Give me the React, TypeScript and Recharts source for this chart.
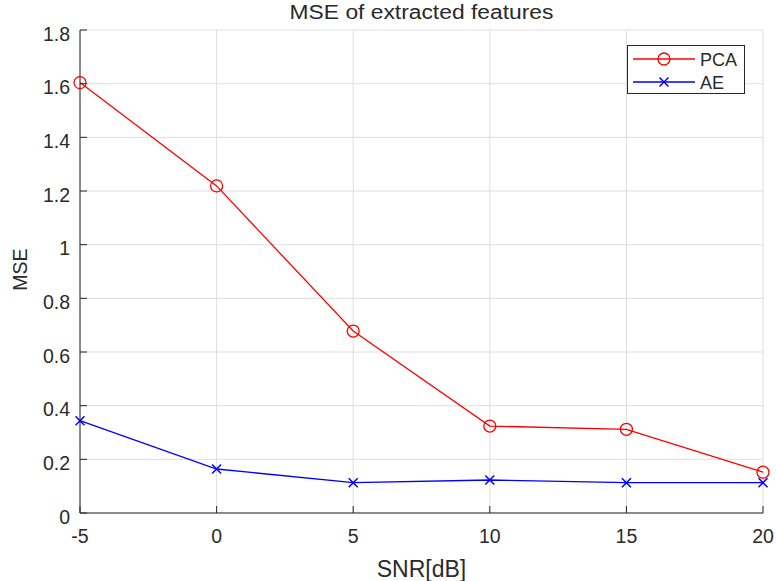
import React from 'react';
import { LineChart, Line, XAxis, YAxis, CartesianGrid, Legend } from 'recharts';

// SNR levels (dB) and the MSE of features extracted by each method
const snrDb = [-5, 0, 5, 10, 15, 20];
const pcaMse = [1.604, 1.219, 0.678, 0.324, 0.312, 0.152];
const aeMse = [0.344, 0.164, 0.113, 0.123, 0.113, 0.113];

const xTicks = [-5, 0, 5, 10, 15, 20];
const yTicks = [0, 0.2, 0.4, 0.6, 0.8, 1, 1.2, 1.4, 1.6, 1.8];

const seriesNames = ['PCA', 'AE'];
const seriesColors = ['#ff0000', '#0000ff'];

const rows = snrDb.map((snr, i) => ({ snr, pca: pcaMse[i], ae: aeMse[i] }));

const FONT = '"Liberation Sans", Arial, Helvetica, sans-serif';
const TEXT = '#2a2a2a';
const AXIS = '#262626';

const CircleDot = (props: any) => {
  const { cx, cy, index } = props;
  if (cx == null || cy == null) return <g key={index} />;
  return <circle key={index} cx={cx} cy={cy} r={6} fill="none" stroke={seriesColors[0]} strokeWidth={1.3} />;
};

const CrossDot = (props: any) => {
  const { cx, cy, index } = props;
  if (cx == null || cy == null) return <g key={index} />;
  const s = 4.5;
  return (
    <g key={index} stroke={seriesColors[1]} strokeWidth={1.5}>
      <line x1={cx - s} y1={cy - s} x2={cx + s} y2={cy + s} />
      <line x1={cx - s} y1={cy + s} x2={cx + s} y2={cy - s} />
    </g>
  );
};

// y tick labels sit slightly below their grid line
const YTick = (props: any) => {
  const { x, y, payload } = props;
  return (
    <text
      x={x}
      y={y + 3.5}
      textAnchor="end"
      dominantBaseline="central"
      fill={TEXT}
      fontSize={19.5}
      fontFamily={FONT}
    >
      {String(payload.value)}
    </text>
  );
};

const YTitle = (props: any) => {
  const vb = props.viewBox || { x: 0, y: 0, width: 0, height: 0 };
  const cx = vb.x + 20;
  const cy = vb.y + vb.height / 2 - 2;
  return (
    <text
      x={cx}
      y={cy}
      transform={`rotate(-90 ${cx} ${cy})`}
      textAnchor="middle"
      dominantBaseline="central"
      fill={TEXT}
      fontSize={19.5}
      fontFamily={FONT}
    >
      MSE
    </text>
  );
};

const LegendBox = () => (
  <div
    style={{
      width: 118,
      height: 49,
      boxSizing: 'border-box',
      border: `1px solid ${AXIS}`,
      background: '#fff',
      position: 'relative',
      fontFamily: FONT,
    }}
  >
    <svg width={116} height={47} style={{ position: 'absolute', left: 0, top: 0 }}>
      {seriesNames.map((name, i) => {
        const y = 13 + i * 23;
        return (
          <g key={name}>
            <line x1={5} x2={67} y1={y} y2={y} stroke={seriesColors[i]} strokeWidth={1.3} />
            {i === 0 ? (
              <circle cx={36} cy={y} r={6} fill="none" stroke={seriesColors[i]} strokeWidth={1.3} />
            ) : (
              <g stroke={seriesColors[i]} strokeWidth={1.5}>
                <line x1={31.5} y1={y - 4.5} x2={40.5} y2={y + 4.5} />
                <line x1={31.5} y1={y + 4.5} x2={40.5} y2={y - 4.5} />
              </g>
            )}
            <text x={72} y={y + 1} dominantBaseline="central" fontSize={18} fill={TEXT} fontFamily={FONT}>
              {name}
            </text>
          </g>
        );
      })}
    </svg>
  </div>
);

export default function App() {
  return (
    <div
      style={{
        position: 'absolute',
        left: 0,
        top: 0,
        width: 776,
        height: 581,
        background: '#ffffff',
        fontFamily: FONT,
      }}
    >
      <div
        style={{
          position: 'absolute',
          left: 80,
          top: 3,
          width: 683,
          textAlign: 'center',
          fontSize: 19.5,
          lineHeight: '19px',
          color: TEXT,
          transform: 'scaleX(1.17)',
          transformOrigin: '341.5px 0',
          zIndex: 2,
        }}
      >
        MSE of extracted features
      </div>
      <LineChart width={776} height={581} data={rows} margin={{ top: 30, right: 13, bottom: 0, left: 0 }}>
        <CartesianGrid stroke="#dedede" strokeWidth={1} />
        <XAxis
          dataKey="snr"
          type="number"
          domain={[-5, 20]}
          ticks={xTicks}
          interval={0}
          height={68}
          tickSize={-7}
          tickMargin={23}
          stroke={AXIS}
          tick={{ fill: TEXT, fontSize: 19.5, fontFamily: FONT }}
          label={{ value: 'SNR[dB]', position: 'insideBottom', offset: 4, fill: TEXT, fontSize: 23, fontFamily: FONT }}
        />
        <XAxis
          xAxisId="top"
          orientation="top"
          type="number"
          domain={[-5, 20]}
          ticks={xTicks}
          interval={0}
          height={0}
          tickSize={-7}
          stroke={AXIS}
          tick={() => <g />}
        />
        <YAxis
          type="number"
          domain={[0, 1.8]}
          ticks={yTicks}
          interval={0}
          width={80}
          tickSize={-7}
          tickMargin={17}
          stroke={AXIS}
          tick={YTick}
          label={<YTitle />}
        />
        <YAxis
          yAxisId="right"
          orientation="right"
          type="number"
          domain={[0, 1.8]}
          ticks={yTicks}
          interval={0}
          width={0}
          tickSize={-7}
          stroke={AXIS}
          tick={() => <g />}
        />
        <Line
          dataKey="pca"
          name={seriesNames[0]}
          stroke={seriesColors[0]}
          strokeWidth={1.3}
          dot={CircleDot}
          activeDot={false}
          isAnimationActive={false}
        />
        <Line
          dataKey="ae"
          name={seriesNames[1]}
          stroke={seriesColors[1]}
          strokeWidth={1.3}
          dot={CrossDot}
          activeDot={false}
          isAnimationActive={false}
        />
        <Legend
          layout="horizontal"
          verticalAlign="middle"
          align="center"
          content={() => <LegendBox />}
          wrapperStyle={{ left: 627, top: 45, width: 118, height: 49 }}
        />
      </LineChart>
    </div>
  );
}
